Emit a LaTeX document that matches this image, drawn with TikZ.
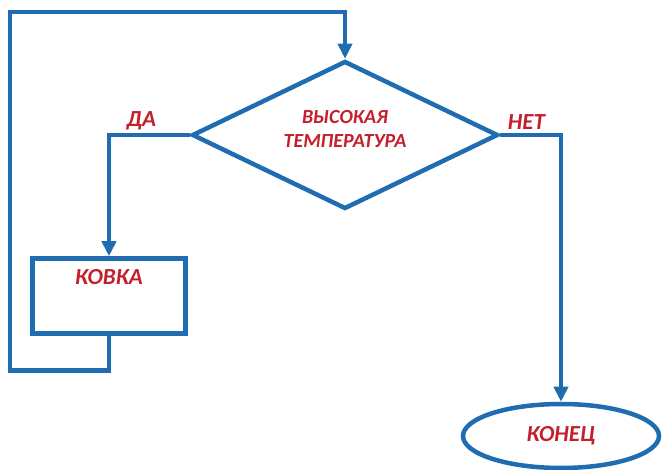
\documentclass[tikz,border=0pt]{standalone}
\usepackage{fontspec}
\setmainfont{Carlito}
\usepackage{tikz}
\usetikzlibrary{shapes.geometric,positioning,arrows.meta}
\definecolor{flowblue}{RGB}{31,108,176}
\definecolor{wordred}{RGB}{196,32,44}
\newcommand{\word}[1]{\textcolor{wordred}{\textbf{\textit{#1}}}}

\begin{document}
\begin{tikzpicture}[
    x=1pt,
    y=-1pt,
    line width=4.5pt,
    flow/.style={draw=flowblue,-{Triangle[length=15pt,width=14pt]}},
    decision/.style={diamond,draw=flowblue,aspect=2.07,minimum width=306pt,minimum height=148pt,inner sep=0pt,align=center,font=\fontsize{20}{24}\selectfont},
    process/.style={rectangle,draw=flowblue,minimum width=153pt,minimum height=75pt,inner sep=0pt},
    terminal/.style={ellipse,draw=flowblue,minimum width=196pt,minimum height=64pt,inner sep=0pt,font=\fontsize{23}{25}\selectfont},
    answer/.style={font=\fontsize{23}{25}\selectfont,inner sep=1pt}
    ]
    \useasboundingbox (0,0) rectangle (665,470);

    \node[decision] (temp) at (345,135) {\word{ВЫСОКАЯ}\\\word{ТЕМПЕРАТУРА}\rule[-12pt]{0pt}{0pt}};
    \node[process] (forge) at (109,296) [label={[anchor=north,yshift=-8pt,font=\fontsize{23}{25}\selectfont]north:\word{КОВКА}}] {};
    \node[terminal] (end) at (561,436) {\word{КОНЕЦ}};
    \coordinate (corner) at (10,12);

    \draw[flow] (temp.west) -| node[answer, pos=0.3, above, yshift=2pt] {\word{ДА}} (forge.north);
    \draw[flow] (temp.east) -| node[answer, pos=0.22, above, yshift=2pt] {\word{НЕТ}} (end.north);
    \draw[flow] (forge.south) -- ++(0,35) -| (corner) -| (temp.north);
  \end{tikzpicture}
\end{document}
